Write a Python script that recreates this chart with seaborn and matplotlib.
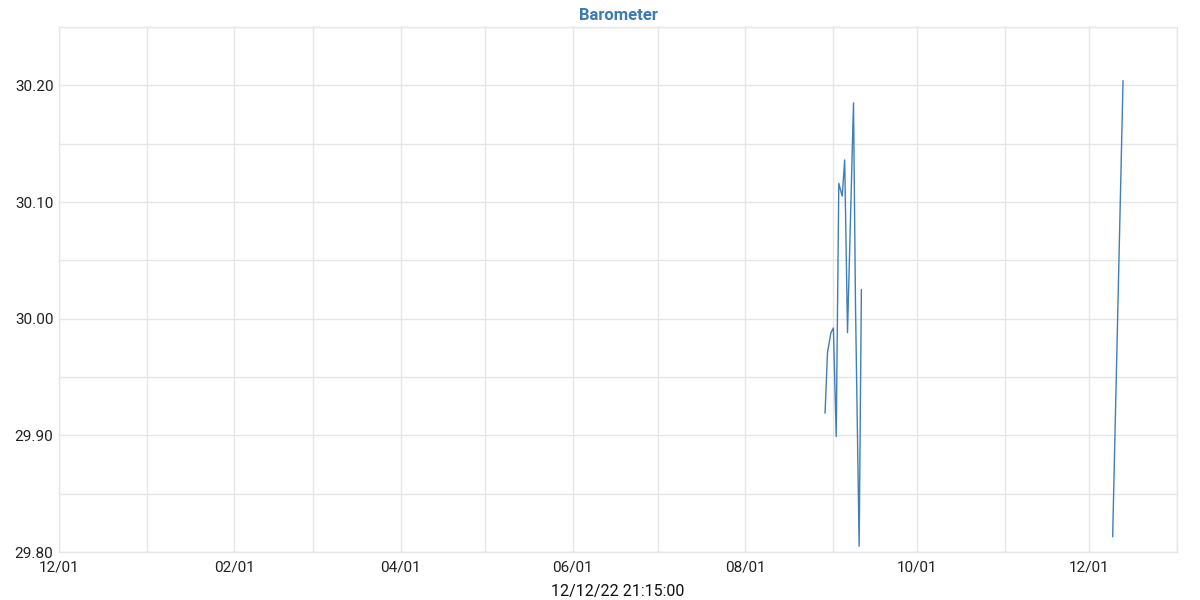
import matplotlib
matplotlib.use("Agg")
import matplotlib.pyplot as plt
import matplotlib.dates as mdates
from matplotlib.ticker import MultipleLocator, FormatStrFormatter
import pandas as pd
import seaborn as sns

# Data
times = [
    "2022-08-29 08:00", "2022-08-30 05:00", "2022-08-31 10:00", "2022-09-01 07:00",
    "2022-09-02 07:00", "2022-09-03 05:00", "2022-09-04 10:00", "2022-09-05 07:00",
    "2022-09-06 07:00", "2022-09-08 10:00", "2022-09-09 03:00", "2022-09-10 10:00",
    "2022-09-11 05:00",
    "2022-12-09 05:00", "2022-12-12 21:15",
]
values = [
    29.919, 29.971, 29.988, 29.992,
    29.899, 30.116, 30.105, 30.136,
    29.988, 30.185, 30.011, 29.805,
    30.025,
    29.813, 30.204,
]
segments = [0] * 13 + [1] * 2

title = "Barometer"
xlabel = "12/12/22 21:15:00"

df = pd.DataFrame({"time": pd.to_datetime(times), "value": values, "segment": segments})

sns.set_style("white")
plt.rcParams["font.family"] = ["Roboto", "DejaVu Sans"]

fig = plt.figure(figsize=(12, 6), dpi=100)
ax = fig.add_axes([59 / 1200, 48 / 600, (1177 - 59) / 1200, (552 - 27) / 600])

sns.lineplot(data=df, x="time", y="value", units="segment", estimator=None,
             color="#3f7fb6", linewidth=1.0, ax=ax)

ax.set_xlim(pd.Timestamp("2021-12-01"), pd.Timestamp("2023-01-01"))
ax.set_ylim(29.80, 30.25)

ax.xaxis.set_major_locator(mdates.MonthLocator(bymonth=[2, 4, 6, 8, 10, 12]))
ax.xaxis.set_minor_locator(mdates.MonthLocator())
ax.xaxis.set_major_formatter(mdates.DateFormatter("%m/%d"))
ax.yaxis.set_major_locator(MultipleLocator(0.10))
ax.yaxis.set_minor_locator(MultipleLocator(0.05))
ax.yaxis.set_major_formatter(FormatStrFormatter("%.2f"))

gc = "#e6e6e6"
ax.grid(True, which="both", color=gc, linewidth=1.0)
ax.set_axisbelow(True)
for s in ax.spines.values():
    s.set_color(gc)
    s.set_linewidth(1.0)

ax.tick_params(axis="both", which="both", length=0, labelsize=11, colors="#222222")
ax.tick_params(axis="x", pad=6)
ax.tick_params(axis="y", pad=4)

ax.set_title(title, color="#3a7ab5", fontsize=12, fontweight="bold", pad=5)
ax.set_xlabel(xlabel, fontsize=11.5, color="#111111", labelpad=7)
ax.set_ylabel("")

fig.savefig("out.png", dpi=100)
